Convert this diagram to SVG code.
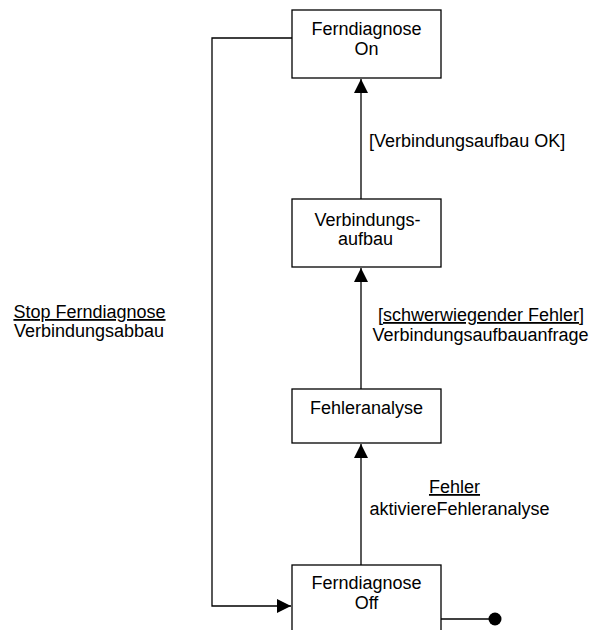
<svg xmlns="http://www.w3.org/2000/svg" width="595" height="630" viewBox="0 0 595 630">
<style>
.box{fill:#fff;stroke:#000;stroke-width:1.3}
.ln{fill:none;stroke:#000;stroke-width:1.3}
text{font-family:"Liberation Sans",Arial,sans-serif;font-size:18px;fill:#000}
.c{text-anchor:middle}
.u{text-decoration:underline}
</style>
<defs>
<marker id="arr" markerUnits="userSpaceOnUse" markerWidth="16" markerHeight="16" viewBox="0 0 16 16" refX="15" refY="8" orient="auto">
<path d="M1,1 L15,8 L1,15 Z" fill="#000"/>
</marker>
</defs>
<g id="connectors">
<path class="ln" d="M292,38 H212 V606 H291" marker-end="url(#arr)"/>
<path class="ln" d="M361,565 V444" marker-end="url(#arr)"/>
<path class="ln" d="M361,389 V268" marker-end="url(#arr)"/>
<path class="ln" d="M361,199 V79" marker-end="url(#arr)"/>
<path class="ln" d="M441,619 H495"/>
<circle cx="495" cy="619" r="6.5" fill="#000"/>
<text x="369" y="147">[Verbindungsaufbau OK]</text>
<text class="c u" x="481" y="321">[schwerwiegender Fehler]</text>
<text class="c" x="480.5" y="340.5">Verbindungsaufbauanfrage</text>
<text class="c u" x="454.5" y="493">Fehler</text>
<text class="c" x="459.5" y="515">aktiviereFehleranalyse</text>
<text class="c u" x="89.5" y="318">Stop Ferndiagnose</text>
<text class="c" x="89" y="337">Verbindungsabbau</text>
</g>
<g id="on">
<rect class="box" x="292" y="10" width="149" height="68"/>
<text class="c" x="366.5" y="35">Ferndiagnose</text>
<text class="c" x="366.5" y="55">On</text>
</g>
<g id="verbindungsaufbau">
<rect class="box" x="292" y="199" width="149" height="68"/>
<text class="c" x="367.5" y="226">Verbindungs-</text>
<text class="c" x="365.5" y="245">aufbau</text>
</g>
<g id="fehleranalyse">
<rect class="box" x="292" y="389" width="149" height="54"/>
<text class="c" x="366.5" y="414">Fehleranalyse</text>
</g>
<g id="off">
<rect class="box" x="292" y="565" width="149" height="90"/>
<text class="c" x="366.5" y="589">Ferndiagnose</text>
<text class="c" x="366.5" y="609">Off</text>
</g>
</svg>
